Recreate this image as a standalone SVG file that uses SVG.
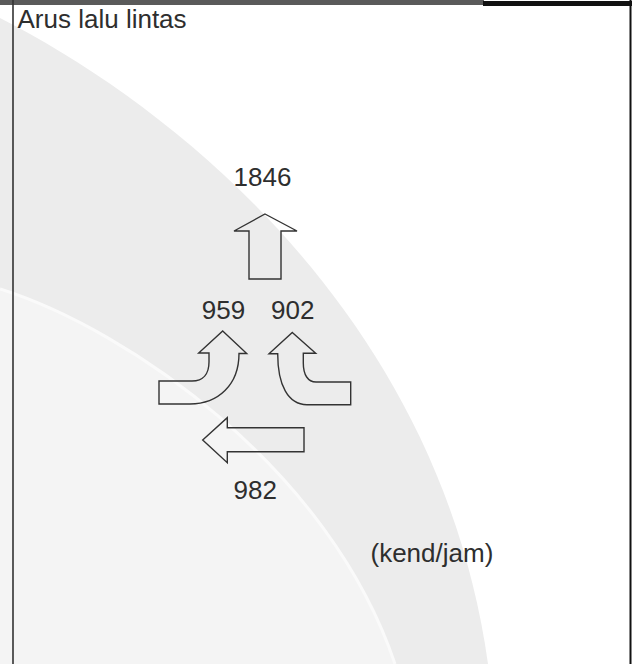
<svg xmlns="http://www.w3.org/2000/svg" width="637" height="664" viewBox="0 0 637 664">
  <style>
    .lbl { font-family: "Liberation Sans", Arial, sans-serif; font-size: 26px; fill: #2e2e2e; }
    .arrow { fill: none; stroke: #333; stroke-width: 1.4; stroke-linejoin: miter; }
  </style>
  <rect x="0" y="0" width="637" height="664" fill="#ffffff"/>
  <g id="watermark">
    <path d="M0,18 C180,110 440,320 488,664 L0,664 Z" fill="#ececec"/>
    <path d="M0,289 C130,330 330,470 395,664 L0,664 Z" fill="#f4f4f4"/>
    <path d="M0,289 C130,330 330,470 395,664" fill="none" stroke="#fafafa" stroke-width="3"/>
  </g>
  <g id="frame">
    <rect x="0" y="0" width="484" height="5" fill="#5a5a5a"/>
    <rect x="483" y="1" width="149" height="5" fill="#111"/>
    <line x1="13" y1="0" x2="13" y2="664" stroke="#333" stroke-width="1.6"/>
    <line x1="630.5" y1="0" x2="630.5" y2="664" stroke="#111" stroke-width="2"/>
  </g>
  <g id="title">
    <text class="lbl" x="17.5" y="28">Arus lalu lintas</text>
  </g>
  <g id="connectors">
    <path id="arrow-up" class="arrow" d="M265,214 L297,231 L281,231 L281,279 L249,279 L249,231 L234,231 Z"/>
    <path id="arrow-left-turn" class="arrow" d="M222.7,331 L246.7,353.5 L239,353.5 C239,385 218,404 190,404 L159,404 L159,381 L192,381 C203,381 209,374 209,362 L209,353 L198.7,353 Z"/>
    <path id="arrow-right-turn" class="arrow" d="M292.3,332.5 L315.7,353.3 L303.3,353.3 L303.3,363 C303.3,375 308,382 316,382 L350.7,382 L350.7,404.7 L307,404.7 C288,404.7 277.7,385 277.7,353.7 L269,353.7 Z"/>
    <path id="arrow-through-left" class="arrow" d="M202.7,440 L227.3,417.7 L227.3,427.7 L304,427.7 L304,451.7 L227.3,451.7 L227.3,462.7 Z"/>
  </g>
  <g id="node-1846"><text class="lbl" x="262.5" y="186" text-anchor="middle">1846</text></g>
  <g id="node-959"><text class="lbl" x="223.5" y="319" text-anchor="middle">959</text></g>
  <g id="node-902"><text class="lbl" x="292.8" y="319" text-anchor="middle">902</text></g>
  <g id="node-982"><text class="lbl" x="255.3" y="499" text-anchor="middle">982</text></g>
  <g id="unit"><text class="lbl" x="370.5" y="562">(kend/jam)</text></g>
</svg>
